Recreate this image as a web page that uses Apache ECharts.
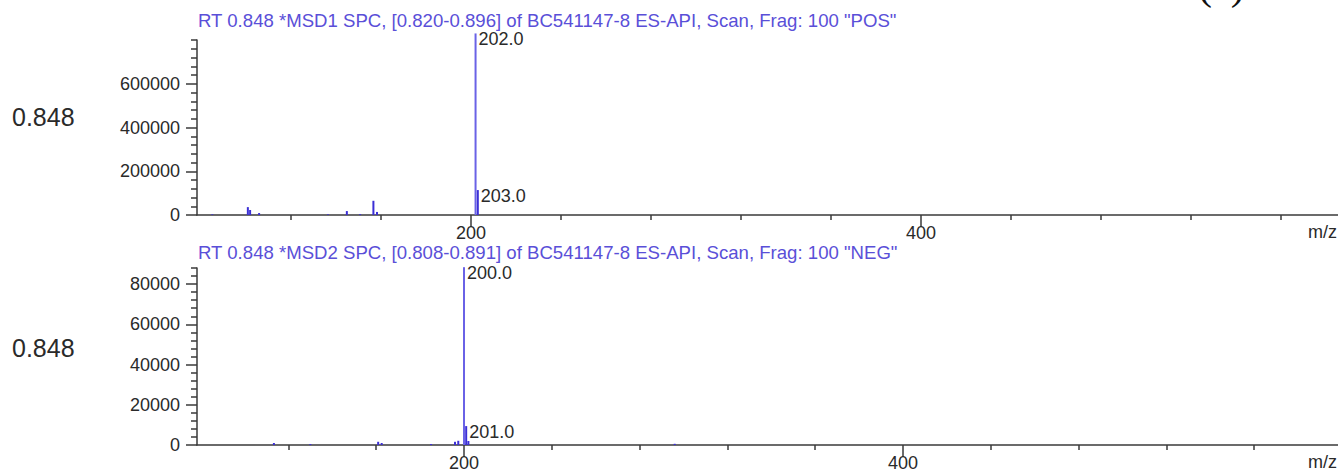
<!DOCTYPE html>
<html>
<head>
<meta charset="utf-8">
<script src="https://cdn.jsdelivr.net/npm/echarts@6/dist/echarts.min.js"></script>
<style>
html,body{margin:0;padding:0;background:#fff;}
#c{width:1338px;height:472px;}
</style>
</head>
<body>
<div id="c"></div>
<script>
// ---- data ----
const rtLabel = '0.848';
const topTitle = 'RT 0.848 *MSD1 SPC, [0.820-0.896] of BC541147-8 ES-API, Scan, Frag: 100 "POS"';
const botTitle = 'RT 0.848 *MSD2 SPC, [0.808-0.891] of BC541147-8 ES-API, Scan, Frag: 100 "NEG"';
const panelTag = '(a)';
const xUnit = 'm/z';

// POS spectrum (m/z, intensity)
const posMz  = [85, 100.8, 101.8, 105.8, 136.4, 144.8, 150.7, 156.6, 158.2, 202, 203];
const posInt = [3000, 36000, 23000, 9000, 3000, 18000, 4000, 65000, 14000, 830000, 114000];
const posLabelMz   = [202, 203];
const posLabelText = ['202.0', '203.0'];

// NEG spectrum (m/z, intensity)
const negMz  = [113.4, 130, 160.9, 162.5, 185, 195.9, 197.4, 200, 201, 202, 296];
const negInt = [1000, 500, 1600, 1000, 500, 1600, 2100, 88400, 9400, 2000, 600];
const negLabelMz   = [200, 201];
const negLabelText = ['200.0', '201.0'];

// axis ticks
const xLabelVals  = [200, 400];
const xMinorVals  = [120, 160, 240, 280, 320, 360, 440, 480, 520, 560];
const posYLabels  = [0, 200000, 400000, 600000];
const posYMinor   = [40000, 80000, 120000, 160000, 240000, 280000, 320000, 360000, 440000, 480000, 520000, 560000, 640000, 680000, 720000, 760000, 800000];
const negYLabels  = [0, 20000, 40000, 60000, 80000];
const negYMinor   = [4000, 8000, 12000, 16000, 24000, 28000, 32000, 36000, 44000, 48000, 52000, 56000, 64000, 68000, 72000, 76000, 84000, 88000];

// ---- chart ----
const FONT = 'Liberation Sans, Arial, sans-serif';
const TXT = '#2a2a2a';
const AXC = '#3a3a3a';
const PEAK_TALL = '#6a62e6';
const PEAK_SMALL = '#3b2fd6';
const LBL_SIZE = 18;

function buildData(mz, inten, lblMz, lblText) {
  const mx = Math.max(...inten);
  return mz.map((m, i) => {
    const k = lblMz.indexOf(m);
    const item = { value: [m, inten[i]], itemStyle: { color: inten[i] > 0.5 * mx ? PEAK_TALL : PEAK_SMALL } };
    if (k >= 0) {
      item.label = { show: true, formatter: lblText[k] };
    }
    return item;
  });
}

function xAxes(grid, min, max) {
  return [
    {
      gridIndex: grid, type: 'value', min: min, max: max, position: 'bottom',
      axisLine: { show: true, onZero: false, lineStyle: { color: AXC, width: 1.5 } },
      axisTick: { show: true, customValues: xLabelVals, length: 12, lineStyle: { color: AXC, width: 1.5 } },
      axisLabel: { show: true, customValues: xLabelVals, margin: 9, fontSize: LBL_SIZE, color: TXT, fontFamily: FONT,
                   formatter: v => String(v) },
      splitLine: { show: false }
    },
    {
      gridIndex: grid, type: 'value', min: min, max: max, position: 'bottom',
      axisLine: { show: false },
      axisTick: { show: true, customValues: xMinorVals, length: 5, lineStyle: { color: AXC, width: 1.5 } },
      axisLabel: { show: false },
      splitLine: { show: false }
    }
  ];
}

function yAxes(grid, max, labels, minors) {
  return [
    {
      gridIndex: grid, type: 'value', min: 0, max: max, position: 'left',
      axisLine: { show: true, onZero: false, lineStyle: { color: AXC, width: 1.5 } },
      axisTick: { show: true, customValues: labels, length: 11, lineStyle: { color: AXC, width: 1.5 } },
      axisLabel: { show: true, customValues: labels, margin: 17, fontSize: LBL_SIZE, color: TXT, fontFamily: FONT,
                   formatter: v => String(v) },
      splitLine: { show: false }
    },
    {
      gridIndex: grid, type: 'value', min: 0, max: max, position: 'left',
      axisLine: { show: false },
      axisTick: { show: true, customValues: minors, length: 6, lineStyle: { color: AXC, width: 1.5 } },
      axisLabel: { show: false },
      splitLine: { show: false }
    }
  ];
}

const chart = echarts.init(document.getElementById('c'), null, { renderer: 'svg' });

const barLabel = { show: false, position: [4, -3], fontSize: LBL_SIZE, color: TXT, fontFamily: FONT };

chart.setOption({
  animation: false,
  backgroundColor: '#ffffff',
  grid: [
    { left: 197, top: 40, width: 1141, height: 175 },
    { left: 197, top: 268, width: 1141, height: 178 }
  ],
  xAxis: [].concat(xAxes(0, 78.2, 585.3), xAxes(1, 78.36, 598.2)),
  yAxis: [].concat(yAxes(0, 800000, posYLabels, posYMinor), yAxes(1, 88000, negYLabels, negYMinor)),
  series: [
    {
      type: 'bar', xAxisIndex: 0, yAxisIndex: 0, barWidth: 2, clip: false,
      label: barLabel,
      data: buildData(posMz, posInt, posLabelMz, posLabelText)
    },
    {
      type: 'bar', xAxisIndex: 2, yAxisIndex: 2, barWidth: 2, clip: false,
      label: barLabel,
      data: buildData(negMz, negInt, negLabelMz, negLabelText)
    }
  ],
  graphic: [
    { type: 'text', left: 198, top: 11, style: { text: topTitle, fontSize: 18.6, fontFamily: FONT, fill: '#5a4fd8' } },
    { type: 'text', left: 198, top: 243, style: { text: botTitle, fontSize: 18.6, fontFamily: FONT, fill: '#5a4fd8' } },
    { type: 'text', left: 12, top: 104, style: { text: rtLabel, fontSize: 25, fontFamily: FONT, fill: TXT } },
    { type: 'text', left: 12, top: 335, style: { text: rtLabel, fontSize: 25, fontFamily: FONT, fill: TXT } },
    { type: 'text', right: 1, top: 223, style: { text: xUnit, fontSize: LBL_SIZE, fontFamily: FONT, fill: TXT } },
    { type: 'text', right: 1, top: 453, style: { text: xUnit, fontSize: LBL_SIZE, fontFamily: FONT, fill: TXT } },
    { type: 'text', left: 1198, top: -36, style: { text: panelTag, fontSize: 42, fontFamily: 'Liberation Serif, Times New Roman, serif', fill: '#111' } }
  ]
});
</script>
</body>
</html>
